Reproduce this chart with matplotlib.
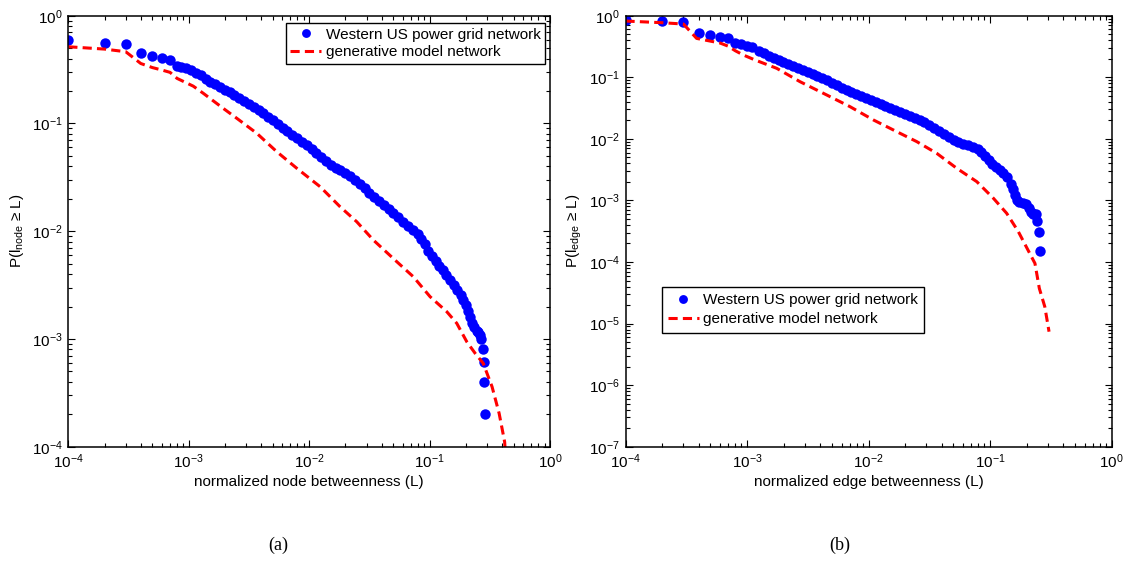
import matplotlib
matplotlib.use('Agg')
import matplotlib.pyplot as plt
from matplotlib.ticker import LogLocator, NullFormatter

plt.rcParams['font.family'] = ['Liberation Sans', 'DejaVu Sans']
plt.rcParams['mathtext.fontset'] = 'custom'
plt.rcParams['mathtext.rm'] = 'Liberation Sans'
plt.rcParams['mathtext.it'] = 'Liberation Sans:italic'
plt.rcParams['mathtext.bf'] = 'Liberation Sans:bold'

# (a) node betweenness, Western US grid
node_grid_x = [1e-4, 2e-4, 3e-4, 4e-4, 5e-4, 6e-4, 7e-4, 8e-4,
               8.71e-4, 9.55e-4, 1.047e-3, 1.148e-3, 1.259e-3, 1.380e-3, 1.514e-3,
               1.660e-3, 1.820e-3, 1.995e-3, 2.188e-3, 2.399e-3, 2.630e-3, 2.884e-3,
               3.162e-3, 3.467e-3, 3.802e-3, 4.169e-3, 4.571e-3, 5.012e-3, 5.495e-3,
               6.026e-3, 6.607e-3, 7.244e-3, 7.943e-3, 8.710e-3, 9.550e-3,
               1.047e-2, 1.148e-2, 1.259e-2, 1.380e-2, 1.514e-2, 1.660e-2, 1.820e-2,
               1.995e-2, 2.188e-2, 2.399e-2, 2.630e-2, 2.884e-2, 3.162e-2, 3.467e-2,
               3.802e-2, 4.169e-2, 4.571e-2, 5.012e-2, 5.495e-2, 6.026e-2, 6.607e-2,
               7.244e-2, 7.943e-2,
               8.511e-2, 9.120e-2, 9.772e-2, 0.1047, 0.1122, 0.1202, 0.1288, 0.1380,
               0.1479, 0.1585, 0.1698,
               0.1820, 0.1905, 0.1995, 0.2089, 0.2163, 0.2239, 0.2344, 0.2455, 0.2541,
               0.2630,
               0.2692, 0.2786, 0.2825, 0.2844, 0.2884]
node_grid_p = [0.594, 0.561, 0.542, 0.447, 0.425, 0.402, 0.388, 0.343,
               0.336, 0.325, 0.313, 0.296, 0.279, 0.261, 0.243,
               0.230, 0.217, 0.205, 0.194, 0.182, 0.172, 0.162,
               0.153, 0.143, 0.133, 0.124, 0.116, 0.107, 0.0993,
               0.0916, 0.0845, 0.0783, 0.0726, 0.0675, 0.0627,
               0.0579, 0.0531, 0.0486, 0.0446, 0.0414, 0.0389, 0.0366,
               0.0344, 0.0323, 0.0301, 0.0274, 0.0250, 0.0228, 0.0209,
               0.0192, 0.0176, 0.0162, 0.0148, 0.0135, 0.0123, 0.0112,
               0.0102, 9.33e-3,
               8.55e-3, 7.53e-3, 6.62e-3, 5.90e-3, 5.32e-3, 4.80e-3, 4.34e-3, 3.91e-3,
               3.52e-3, 3.18e-3, 2.87e-3,
               2.56e-3, 2.31e-3, 2.08e-3, 1.81e-3, 1.59e-3, 1.40e-3, 1.28e-3, 1.18e-3, 1.17e-3,
               1.10e-3,
               1.01e-3, 8.1e-4, 6.1e-4, 4.0e-4, 2.0e-4]

# (a) node betweenness, generative model
node_model_x = [1e-4, 2e-4, 3e-4, 4e-4, 5e-4, 6e-4, 7e-4, 8e-4, 1.09e-3,
                1.321e-3, 1.936e-3, 2.506e-3, 3.673e-3, 5.383e-3, 7.89e-3,
                1.233e-2, 1.807e-2, 2.483e-2, 3.412e-2, 5.346e-2, 7.33e-2,
                0.1009, 0.139, 0.168, 0.2037, 0.239, 0.279, 0.330, 0.378, 0.420, 0.44]
node_model_p = [0.515, 0.49, 0.463, 0.36, 0.33, 0.313, 0.298, 0.262, 0.222,
                0.1905, 0.138, 0.1117, 0.0811, 0.0547, 0.0384,
                0.0259, 0.01687, 0.01225, 8.28e-3, 5.21e-3, 3.78e-3,
                2.47e-3, 1.79e-3, 1.40e-3, 9.42e-4, 7.36e-4, 5.94e-4, 3.61e-4, 2.04e-4,
                1.11e-4, 5e-5]

# (b) edge betweenness, Western US grid
edge_grid_x = [1e-4, 2e-4, 3e-4, 4e-4, 5e-4, 6e-4, 7e-4, 8e-4, 9e-4, 1e-3, 1.1e-3,
               1.259e-3, 1.380e-3, 1.514e-3, 1.660e-3, 1.820e-3, 1.995e-3, 2.188e-3,
               2.399e-3, 2.630e-3, 2.884e-3, 3.162e-3, 3.467e-3, 3.802e-3, 4.169e-3,
               4.571e-3, 5.012e-3, 5.495e-3, 6.026e-3, 6.607e-3, 7.244e-3, 7.943e-3,
               8.710e-3, 9.550e-3, 1.047e-2, 1.148e-2, 1.259e-2, 1.380e-2, 1.514e-2,
               1.660e-2, 1.820e-2, 1.995e-2, 2.188e-2, 2.399e-2, 2.630e-2, 2.884e-2,
               3.162e-2, 3.467e-2, 3.802e-2, 4.169e-2, 4.571e-2, 5.012e-2, 5.495e-2,
               6.026e-2, 6.607e-2, 7.244e-2, 7.943e-2,
               8.511e-2, 9.120e-2, 9.772e-2, 0.1047, 0.1122, 0.1202, 0.1288, 0.1380,
               0.1479, 0.1549, 0.1603, 0.1660,
               0.1738, 0.1862, 0.1995, 0.2089, 0.2163, 0.2239, 0.2317, 0.2399, 0.2460,
               0.2512, 0.2582]
edge_grid_p = [0.851, 0.829, 0.780, 0.518, 0.486, 0.456, 0.43, 0.36, 0.343, 0.322, 0.306,
               0.270, 0.244, 0.222, 0.207, 0.191, 0.177, 0.164,
               0.152, 0.141, 0.131, 0.121, 0.112, 0.104, 0.0966,
               0.0895, 0.0818, 0.0748, 0.0682, 0.0624, 0.0578, 0.0536,
               0.0497, 0.0460, 0.0427, 0.0395, 0.0366, 0.0340, 0.0315,
               0.0292, 0.0271, 0.0251, 0.0233, 0.0216, 0.0200, 0.0186,
               0.0168, 0.0149, 0.0132, 0.0119, 0.0106, 9.57e-3, 8.93e-3,
               8.36e-3, 7.80e-3, 7.29e-3, 6.81e-3,
               6.19e-3, 5.28e-3, 4.50e-3, 3.95e-3, 3.53e-3, 3.15e-3, 2.75e-3, 2.41e-3,
               1.87e-3, 1.51e-3, 1.24e-3, 1.02e-3,
               9.55e-4, 9.12e-4, 8.91e-4, 7.59e-4, 6.46e-4, 6.07e-4, 6.07e-4, 6.07e-4, 4.55e-4,
               3.03e-4, 1.52e-4]

# (b) edge betweenness, generative model
edge_model_x = [1e-4, 2e-4, 3e-4, 3.85e-4, 6e-4, 7e-4, 8e-4, 9.33e-4, 1.164e-3,
                1.754e-3, 2.729e-3, 4.53e-3, 7.05e-3, 1.096e-2, 1.706e-2, 2.495e-2,
                3.64e-2, 5.32e-2, 7.78e-2, 0.1064, 0.1371, 0.1710, 0.2344, 0.2547,
                0.2825, 0.3062]
edge_model_p = [0.819, 0.77, 0.732, 0.428, 0.36, 0.32, 0.27, 0.230, 0.191,
                0.140, 0.0849, 0.0516, 0.0333, 0.0203, 0.0131, 9.02e-3,
                5.83e-3, 3.33e-3, 2.02e-3, 1.09e-3, 6.19e-4, 3.12e-4, 9.5e-5, 3.73e-5,
                1.88e-5, 7.38e-6]

grid_label = 'Western US power grid network'
model_label = 'generative model network'


def style_axes(ax, ymin):
    ax.set_xscale('log')
    ax.set_yscale('log')
    ax.set_xlim(1e-4, 1)
    ax.set_ylim(ymin, 1)
    for axis in [ax.xaxis, ax.yaxis]:
        axis.set_major_locator(LogLocator(base=10, numticks=12))
        axis.set_minor_locator(LogLocator(base=10, subs=range(2, 10), numticks=12))
        axis.set_minor_formatter(NullFormatter())
    ax.tick_params(which='both', direction='in', top=True, right=True,
                   labelsize=11, width=0.8, pad=4)
    ax.tick_params(which='major', length=5)
    ax.tick_params(which='minor', length=3)
    for s in ax.spines.values():
        s.set_linewidth(1.1)


def draw(ax, gx, gp, mx, mp):
    ax.plot(gx, gp, 'o', color='b', markersize=7.5, markeredgewidth=0, label=grid_label)
    ax.plot(mx, mp, color='r', linewidth=2.2, linestyle=(0, (3.0, 1.7)), label=model_label)


fig = plt.figure(figsize=(11.25, 5.61), dpi=100)
ax1 = fig.add_axes([0.0607, 0.2037, 0.4282, 0.7683])
ax2 = fig.add_axes([0.556, 0.2037, 0.432, 0.7683])

draw(ax1, node_grid_x, node_grid_p, node_model_x, node_model_p)
style_axes(ax1, 1e-4)
ax1.set_xlabel('normalized node betweenness (L)', fontsize=11, labelpad=3)
ax1.set_ylabel(r'P(l$_{\mathrm{node}}$ ≥ L)', fontsize=11, labelpad=4)
leg1 = ax1.legend(loc='upper right', bbox_to_anchor=(0.9896, 0.983), borderaxespad=0,
                  fontsize=11, numpoints=1, handlelength=2.0, handletextpad=0.3,
                  borderpad=0.3, labelspacing=0.25, fancybox=False, framealpha=1,
                  edgecolor='k', markerscale=0.85)
leg1.get_frame().set_linewidth(1.0)

draw(ax2, edge_grid_x, edge_grid_p, edge_model_x, edge_model_p)
style_axes(ax2, 1e-7)
ax2.set_xlabel('normalized edge betweenness (L)', fontsize=11, labelpad=3)
ax2.set_ylabel(r'P(l$_{\mathrm{edge}}$ ≥ L)', fontsize=11, labelpad=4)
leg2 = ax2.legend(loc='upper left', bbox_to_anchor=(0.075, 0.3705), borderaxespad=0,
                  fontsize=11, numpoints=1, handlelength=2.0, handletextpad=0.3,
                  borderpad=0.4, labelspacing=0.35, fancybox=False, framealpha=1,
                  edgecolor='k', markerscale=0.85)
leg2.get_frame().set_linewidth(1.0)

fig.text(278 / 1125, 1 - 545 / 561, '(a)', ha='center', va='center',
         family='Liberation Serif', fontsize=13)
fig.text(840 / 1125, 1 - 545 / 561, '(b)', ha='center', va='center',
         family='Liberation Serif', fontsize=13)

fig.savefig('out.png', dpi=100)
